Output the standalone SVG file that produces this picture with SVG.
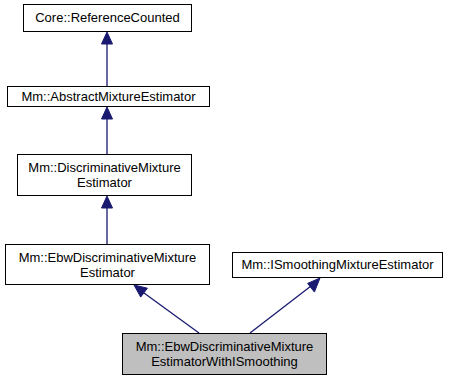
<svg xmlns="http://www.w3.org/2000/svg" width="456" height="380" viewBox="0 0 456 380">
  <style>
    .box { fill: #ffffff; stroke: #000000; stroke-width: 1; }
    .cur { fill: #bfbfbf; stroke: #000000; stroke-width: 1; }
    .lbl { font-family: "Liberation Sans", Arial, sans-serif; font-size: 13px; fill: #000000; text-anchor: middle; }
    .edge { stroke: #191970; stroke-width: 1.3; fill: none; }
    .head { fill: #191970; stroke: #191970; stroke-width: 1; }
  </style>
  <rect width="456" height="380" fill="#ffffff"/>

  <!-- inheritance edges: line + arrowhead at the base class -->
  <g id="edges">
    <line class="edge" x1="107" y1="86" x2="107" y2="44"/>
    <polygon class="head" points="107,32 101.5,44 112.5,44"/>
    <line class="edge" x1="107" y1="154" x2="107" y2="119"/>
    <polygon class="head" points="107,107 101.5,119 112.5,119"/>
    <line class="edge" x1="107" y1="244" x2="107" y2="208"/>
    <polygon class="head" points="107,196 101.5,208 112.5,208"/>
    <line class="edge" x1="199" y1="333" x2="144" y2="293"/>
    <polygon class="head" points="134,285 140.7,297.1 147.4,288.2"/>
    <line class="edge" x1="250" y1="333" x2="311" y2="286"/>
    <polygon class="head" points="320,278 307.6,283.4 314.4,292.1"/>
  </g>

  <g id="node-core-referencecounted">
    <rect class="box" x="23.5" y="4.5" width="168" height="27"/>
    <text class="lbl" x="107.5" y="22">Core::ReferenceCounted</text>
  </g>

  <g id="node-abstract-mixture-estimator">
    <rect class="box" x="7.5" y="86.5" width="202" height="20"/>
    <text class="lbl" x="108.5" y="101">Mm::AbstractMixtureEstimator</text>
  </g>

  <g id="node-discriminative-mixture-estimator">
    <rect class="box" x="17.5" y="154.5" width="174" height="41"/>
    <text class="lbl" x="104.5" y="172">Mm::DiscriminativeMixture</text>
    <text class="lbl" x="104.5" y="187">Estimator</text>
  </g>

  <g id="node-ebw-discriminative-mixture-estimator">
    <rect class="box" x="5.5" y="244.5" width="204" height="40"/>
    <text class="lbl" x="107.5" y="262">Mm::EbwDiscriminativeMixture</text>
    <text class="lbl" x="107.5" y="277">Estimator</text>
  </g>

  <g id="node-ismoothing-mixture-estimator">
    <rect class="box" x="232.5" y="252.5" width="210" height="25"/>
    <text class="lbl" x="337.5" y="269">Mm::ISmoothingMixtureEstimator</text>
  </g>

  <g id="node-ebw-discriminative-mixture-estimator-with-ismoothing">
    <rect class="cur" x="122.5" y="333.5" width="204" height="41"/>
    <text class="lbl" x="224.5" y="351">Mm::EbwDiscriminativeMixture</text>
    <text class="lbl" x="224.5" y="366">EstimatorWithISmoothing</text>
  </g>
</svg>
